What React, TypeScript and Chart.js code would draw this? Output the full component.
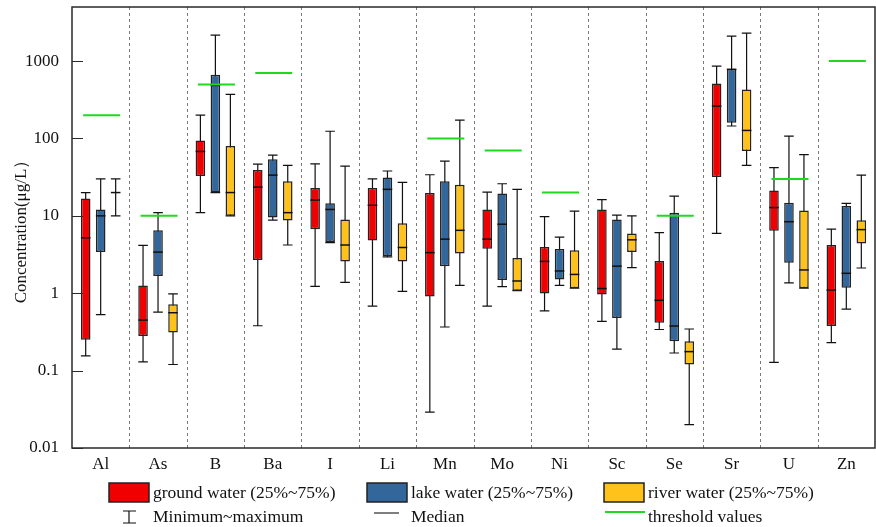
import React, { useEffect, useRef } from 'react';
import { Chart, registerables } from 'chart.js';

Chart.register(...registerables);

// ---------- data ----------
const categories = ['Al', 'As', 'B', 'Ba', 'I', 'Li', 'Mn', 'Mo', 'Ni', 'Sc', 'Se', 'Sr', 'U', 'Zn'];

const groundMin = [0.155, 0.13, 11, 0.38, 1.23, 0.68, 0.029, 0.68, 0.59, 0.434, 0.34, 5.94, 0.128, 0.23];
const groundQ1 = [0.25, 0.28, 32.7, 2.68, 6.7, 4.8, 0.91, 3.77, 0.99, 0.96, 0.417, 31.7, 6.44, 0.377];
const groundMedian = [5.2, 0.45, 68, 23.5, 16, 13.7, 3.35, 5.0, 2.58, 1.15, 0.81, 262, 12.8, 1.1];
const groundQ3 = [16.7, 1.26, 94, 39, 22.9, 22.9, 19.7, 12.1, 3.95, 12.1, 2.6, 515, 21.2, 4.2];
const groundMax = [20, 4.16, 200, 46.7, 47, 30, 34, 20.3, 9.76, 16.2, 6.07, 861, 42, 6.74];

const lakeMin = [0.53, 0.57, 20, 8.8, 4.5, 2.95, 0.366, 1.22, 1.26, 0.19, 0.169, 145, 1.36, 0.625];
const lakeQ1 = [3.4, 1.67, 20, 9.5, 4.6, 3.03, 2.24, 1.48, 1.51, 0.48, 0.24, 160, 2.48, 1.18];
const lakeMedian = [10, 3.4, 485, 33.6, 12.1, 22, 5.0, 7.8, 1.94, 2.24, 0.377, 782, 8.4, 1.81];
const lakeQ3 = [12.1, 6.5, 667, 53.7, 14.5, 31.4, 28, 19.4, 3.72, 9.0, 11, 798, 14.8, 13.4];
const lakeMax = [30, 11, 2170, 61, 124, 38, 51, 26, 5.3, 10.2, 18, 2100, 107, 14.5];

const riverMin = [10, 0.12, 10, 4.2, 1.38, 1.06, 1.26, 1.08, 1.16, 2.14, 0.02, 45, 1.16, 2.12];
const riverQ1 = [null, 0.31, 10, 8.7, 2.58, 2.58, 3.25, 1.08, 1.16, 3.4, 0.12, 68.7, 1.16, 4.4];
const riverMedian = [20, 0.56, 20, 11, 4.2, 3.9, 6.5, 1.44, 1.75, 4.9, 0.176, 127, 2.0, 6.64];
const riverQ3 = [null, 0.72, 80, 28, 9.0, 8.0, 25.3, 2.85, 3.6, 5.9, 0.24, 430, 11.7, 8.75];
const riverMax = [30, 0.98, 372, 45, 44, 27, 173, 22, 11.5, 10, 0.345, 2300, 62, 33.6];

const thresholds = [200, 10, 500, 700, null, null, 100, 70, 20, null, 10, null, 30, 1000];

const yMajorTicks = [0.01, 0.1, 1, 10, 100, 1000];
const yTickLabels = ['0.01', '0.1', '1', '10', '100', '1000'];
const yMinorMultipliers = [2, 3, 4, 5, 6, 7, 8, 9];
const yMin = 0.01;
const yMax = 5000;

const seriesLabels = ['ground water (25%~75%)', 'lake water (25%~75%)', 'river water (25%~75%)'];
const extraLegendLabels = ['Minimum~maximum', 'Median', 'threshold values'];
const yTitle = 'Concentration(μg/L）';

// ---------- styles ----------
const COLORS = ['#F00000', '#33669A', '#FFC21A'];
const GREEN = '#1FD81F';
const EDGE = '#222222';
const FONT = '"Liberation Serif", "Times New Roman", serif';
const CAT_PCT = 0.784;
const BAR_PCT = 0.64;

const series = [
  { min: groundMin, q1: groundQ1, med: groundMedian, q3: groundQ3, max: groundMax },
  { min: lakeMin, q1: lakeQ1, med: lakeMedian, q3: lakeQ3, max: lakeMax },
  { min: riverMin, q1: riverQ1, med: riverMedian, q3: riverQ3, max: riverMax },
];

function slotOf(chart: any, ds: number, j: number) {
  const xs = chart.scales.x;
  const catW = xs.getPixelForValue(1) - xs.getPixelForValue(0);
  const slotW = (catW * CAT_PCT) / 3;
  return { cx: xs.getPixelForValue(j) + (ds - 1) * slotW, w: slotW * BAR_PCT, catW };
}

const extrasPlugin = {
  id: 'boxExtras',
  beforeDatasetsDraw(chart: any) {
    const { ctx, chartArea } = chart;
    const xs = chart.scales.x;
    const ys = chart.scales.y;
    ctx.save();
    // category dividers
    ctx.strokeStyle = '#7a7a7a';
    ctx.lineWidth = 1;
    ctx.setLineDash([3, 3]);
    for (let j = 0; j < categories.length - 1; j++) {
      const x = Math.round((xs.getPixelForValue(j) + xs.getPixelForValue(j + 1)) / 2) + 0.5;
      ctx.beginPath();
      ctx.moveTo(x, chartArea.top);
      ctx.lineTo(x, chartArea.bottom);
      ctx.stroke();
    }
    ctx.setLineDash([]);
    // whiskers
    ctx.strokeStyle = '#111';
    ctx.lineWidth = 1.2;
    series.forEach((s, i) => {
      categories.forEach((_, j) => {
        const lo = s.min[j];
        const hi = s.max[j];
        if (lo == null || hi == null) return;
        const { cx, w } = slotOf(chart, i, j);
        const yl = ys.getPixelForValue(lo);
        const yh = ys.getPixelForValue(hi);
        ctx.beginPath();
        ctx.moveTo(cx, yl);
        ctx.lineTo(cx, yh);
        ctx.moveTo(cx - w / 2, yl);
        ctx.lineTo(cx + w / 2, yl);
        ctx.moveTo(cx - w / 2, yh);
        ctx.lineTo(cx + w / 2, yh);
        ctx.stroke();
      });
    });
    ctx.restore();
  },
  afterDatasetsDraw(chart: any) {
    const { ctx, chartArea } = chart;
    const xs = chart.scales.x;
    const ys = chart.scales.y;
    ctx.save();
    // medians
    ctx.strokeStyle = '#111';
    ctx.lineWidth = 1.5;
    series.forEach((s, i) => {
      categories.forEach((_, j) => {
        const m = s.med[j];
        if (m == null) return;
        const { cx, w } = slotOf(chart, i, j);
        const y = ys.getPixelForValue(m);
        ctx.beginPath();
        ctx.moveTo(cx - w / 2, y);
        ctx.lineTo(cx + w / 2, y);
        ctx.stroke();
      });
    });
    // thresholds
    ctx.strokeStyle = GREEN;
    ctx.lineWidth = 2;
    thresholds.forEach((t, j) => {
      if (t == null) return;
      const catW = xs.getPixelForValue(1) - xs.getPixelForValue(0);
      const c = xs.getPixelForValue(j);
      const y = ys.getPixelForValue(t);
      ctx.beginPath();
      ctx.moveTo(c - catW * 0.305, y);
      ctx.lineTo(c + catW * 0.34, y);
      ctx.stroke();
    });
    // frame
    ctx.strokeStyle = '#2a2a2a';
    ctx.lineWidth = 1.5;
    ctx.strokeRect(chartArea.left, chartArea.top, chartArea.right - chartArea.left, chartArea.bottom - chartArea.top);
    // inward y ticks
    ctx.lineWidth = 1;
    ys.ticks.forEach((t: any) => {
      const y = Math.round(ys.getPixelForValue(t.value)) + 0.5;
      const len = t.major ? 11 : 6;
      ctx.beginPath();
      ctx.moveTo(chartArea.left, y);
      ctx.lineTo(chartArea.left + len, y);
      ctx.stroke();
    });
    ctx.restore();
  },
  afterDraw(chart: any) {
    const { ctx } = chart;
    ctx.save();
    ctx.font = `17.5px ${FONT}`;
    ctx.fillStyle = '#111';
    ctx.textBaseline = 'alphabetic';
    ctx.textAlign = 'left';
    const boxX = [109, 367, 604];
    const textX = [153, 411, 648];
    // row 1: coloured boxes
    seriesLabels.forEach((lab, i) => {
      ctx.fillStyle = COLORS[i];
      ctx.fillRect(boxX[i], 483, 40, 19);
      ctx.strokeStyle = EDGE;
      ctx.lineWidth = 1.5;
      ctx.strokeRect(boxX[i], 483, 40, 19);
      ctx.fillStyle = '#111';
      ctx.fillText(lab, textX[i], 498);
    });
    // row 2
    ctx.strokeStyle = '#111';
    ctx.lineWidth = 1.2;
    ctx.beginPath();
    ctx.moveTo(129, 511);
    ctx.lineTo(129, 523);
    ctx.moveTo(123, 511);
    ctx.lineTo(136, 511);
    ctx.moveTo(123, 523);
    ctx.lineTo(136, 523);
    ctx.stroke();
    ctx.strokeStyle = '#555';
    ctx.lineWidth = 1.5;
    ctx.beginPath();
    ctx.moveTo(374, 513);
    ctx.lineTo(399, 513);
    ctx.stroke();
    ctx.strokeStyle = GREEN;
    ctx.lineWidth = 2;
    ctx.beginPath();
    ctx.moveTo(605, 512);
    ctx.lineTo(645, 512);
    ctx.stroke();
    ctx.fillStyle = '#111';
    extraLegendLabels.forEach((lab, i) => ctx.fillText(lab, textX[i], 522));
    ctx.restore();
  },
};

export default function App() {
  const ref = useRef<HTMLCanvasElement>(null);
  useEffect(() => {
    document.body.style.margin = '0';
    const canvas = ref.current;
    if (!canvas) return;
    Chart.defaults.font.family = FONT;
    Chart.defaults.color = '#111';
    const chart = new Chart(canvas, {
      type: 'bar',
      data: {
        labels: categories,
        datasets: series.map((s, i) => ({
          label: seriesLabels[i],
          data: categories.map((_, j) =>
            s.q1[j] == null || s.q3[j] == null ? null : [s.q1[j] as number, s.q3[j] as number]
          ),
          backgroundColor: COLORS[i],
          borderColor: EDGE,
          borderWidth: 1.5,
          borderSkipped: false,
          categoryPercentage: CAT_PCT,
          barPercentage: BAR_PCT,
        })) as any,
      },
      options: {
        animation: false,
        responsive: false,
        devicePixelRatio: 1,
        layout: { padding: { top: 7, right: 1, left: 0, bottom: 0 } },
        plugins: {
          legend: { display: false },
          tooltip: { enabled: false },
        },
        scales: {
          x: {
            type: 'category',
            grid: { display: false, drawTicks: false },
            border: { display: false },
            ticks: { font: { size: 17, family: FONT }, color: '#111', padding: 6, maxRotation: 0, autoSkip: false },
            afterFit: (s: any) => {
              s.height = 79;
              s.paddingLeft = 0;
              s.paddingRight = 0;
            },
          },
          y: {
            type: 'logarithmic',
            min: yMin,
            max: yMax,
            grid: { display: false, drawTicks: false },
            border: { display: false },
            afterBuildTicks: (s: any) => {
              const ticks: any[] = [];
              yMajorTicks.forEach((m) => {
                ticks.push({ value: m, major: true });
                yMinorMultipliers.forEach((k) => {
                  const v = m * k;
                  if (v <= yMax) ticks.push({ value: v, major: false });
                });
              });
              s.ticks = ticks;
            },
            ticks: {
              autoSkip: false,
              padding: 13,
              font: { size: 17, family: FONT },
              color: '#111',
              callback: (v: any) => {
                const idx = yMajorTicks.findIndex((m) => Math.abs(m - Number(v)) / m < 1e-6);
                return idx >= 0 ? yTickLabels[idx] : null;
              },
            },
            title: {
              display: true,
              text: yTitle,
              font: { size: 17, family: FONT },
              color: '#111',
              padding: { top: 11, bottom: 0 },
            },
            afterFit: (s: any) => {
              s.width = 72;
              s.paddingTop = 0;
              s.paddingBottom = 0;
            },
          },
        },
      },
      plugins: [extrasPlugin],
    });
    return () => chart.destroy();
  }, []);
  return (
    <div style={{ width: 876, height: 527 }}>
      <canvas ref={ref} width={876} height={527} style={{ display: 'block' }} />
    </div>
  );
}
